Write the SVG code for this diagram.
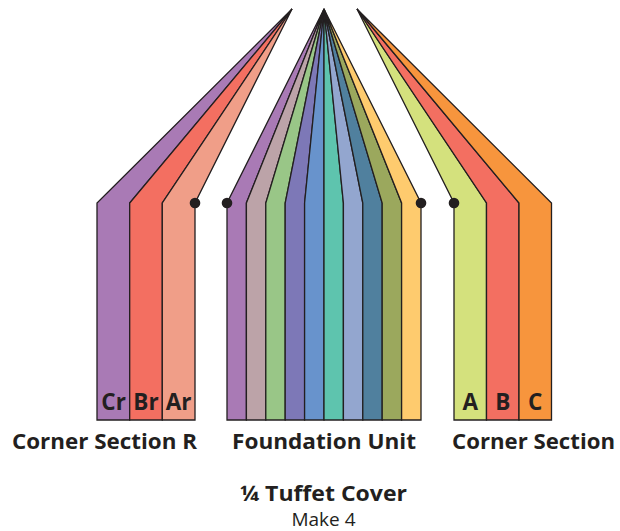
<svg xmlns="http://www.w3.org/2000/svg" width="620" height="531" viewBox="0 0 620 531">
<style>
.s{stroke:#231F20;stroke-width:1.3;stroke-linejoin:miter}
.lb{font-family:"Open Sans","Liberation Sans",sans-serif;font-weight:700;fill:#231F20;text-anchor:middle}
.dot{fill:#231F20}
</style>
<rect width="620" height="531" fill="#fff"/>
<g id="corner-section-r">
<polygon class="s" fill="#A97AB5" points="292,9 97,203 97,420 129.7,420 129.7,203"/>
<polygon class="s" fill="#F36F61" points="292,9 129.7,203 129.7,420 162.3,420 162.3,203"/>
<polygon class="s" fill="#F09E88" points="292,9 162.3,203 162.3,420 195,420 195,203"/>
<text class="lb" font-size="22.5" x="113.6" y="410">Cr</text>
<text class="lb" font-size="22.5" x="146" y="410">Br</text>
<text class="lb" font-size="22.5" x="178.6" y="410">Ar</text>
<circle class="dot" cx="195" cy="203" r="5.3"/>
<text class="lb" font-size="21" x="104.5" y="449" textLength="185" lengthAdjust="spacingAndGlyphs">Corner Section R</text>
</g>
<g id="foundation-unit">
<polygon class="s" fill="#A97AB5" points="324,9 227,203 227,420 246.4,420 246.4,203"/>
<polygon class="s" fill="#BCA3A8" points="324,9 246.4,203 246.4,420 265.8,420 265.8,203"/>
<polygon class="s" fill="#99C687" points="324,9 265.8,203 265.8,420 285.2,420 285.2,203"/>
<polygon class="s" fill="#7D78B7" points="324,9 285.2,203 285.2,420 304.6,420 304.6,203"/>
<polygon class="s" fill="#6893CC" points="324,9 304.6,203 304.6,420 324,420 324,203"/>
<polygon class="s" fill="#5EC4AE" points="324,9 324,203 324,420 343.4,420 343.4,203"/>
<polygon class="s" fill="#93A6CF" points="324,9 343.4,203 343.4,420 362.8,420 362.8,203"/>
<polygon class="s" fill="#50809E" points="324,9 362.8,203 362.8,420 382.2,420 382.2,203"/>
<polygon class="s" fill="#9BA85D" points="324,9 382.2,203 382.2,420 401.6,420 401.6,203"/>
<polygon class="s" fill="#FECB6E" points="324,9 401.6,203 401.6,420 421,420 421,203"/>
<circle class="dot" cx="227" cy="203" r="5.3"/>
<circle class="dot" cx="421" cy="203" r="5.3"/>
<text class="lb" font-size="21" x="324" y="449" textLength="184" lengthAdjust="spacingAndGlyphs">Foundation Unit</text>
</g>
<g id="corner-section">
<polygon class="s" fill="#D4E17D" points="357,9 454,203 454,420 486.5,420 486.5,203"/>
<polygon class="s" fill="#F36F61" points="357,9 486.5,203 486.5,420 519,420 519,203"/>
<polygon class="s" fill="#F7953D" points="357,9 519,203 519,420 551.5,420 551.5,203"/>
<text class="lb" font-size="22.5" x="470.3" y="410">A</text>
<text class="lb" font-size="22.5" x="502.7" y="410">B</text>
<text class="lb" font-size="22.5" x="535.2" y="410">C</text>
<circle class="dot" cx="454" cy="203" r="5.3"/>
<text class="lb" font-size="21" x="533.5" y="449" textLength="163" lengthAdjust="spacingAndGlyphs">Corner Section</text>
</g>
<g id="title">
<text class="lb" font-size="21.5" x="323.5" y="500.5" textLength="167" lengthAdjust="spacingAndGlyphs">¼ Tuffet Cover</text>
<text font-family="'Open Sans','Liberation Sans',sans-serif" font-size="19" fill="#231F20" text-anchor="middle" x="323.5" y="525.5">Make 4</text>
</g>
</svg>
